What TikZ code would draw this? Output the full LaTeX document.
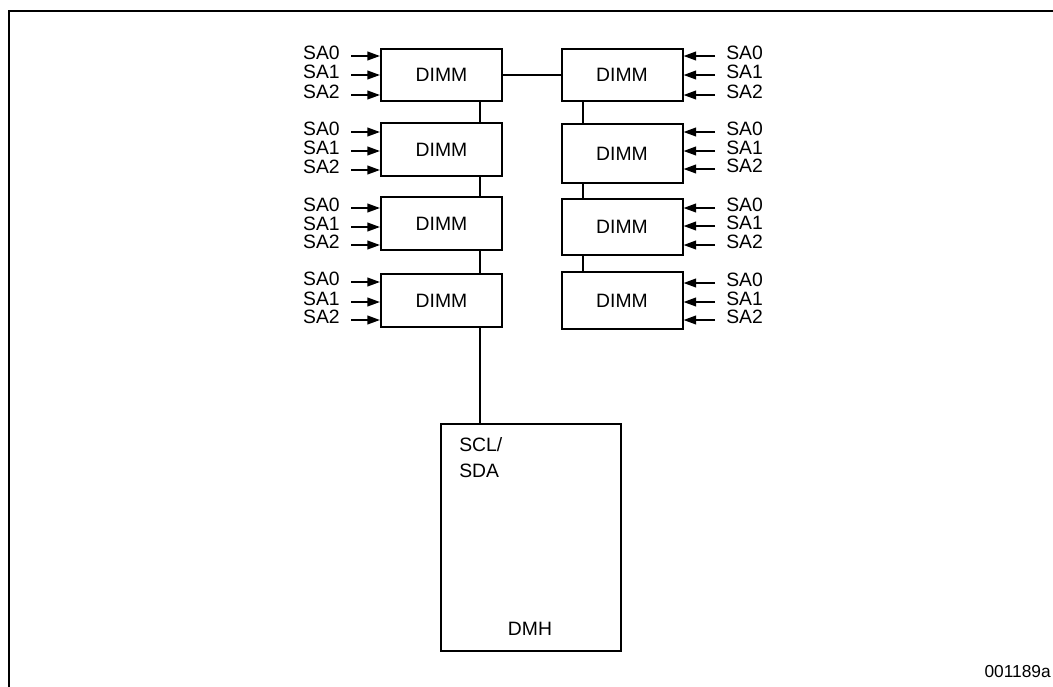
\documentclass[tikz,border=0pt]{standalone}
\usepackage{fontspec}
\setmainfont{Liberation Sans}
\usetikzlibrary{arrows.meta,positioning}

\begin{document}
\begin{tikzpicture}[x=0.75pt,y=-0.75pt,
  dimm/.style={draw,line width=1.5pt,minimum width=90.75pt,inner sep=0pt,font=\fontsize{14.5}{16}\selectfont},
  sal/.style={inner xsep=8.25pt,inner ysep=0pt,font=\fontsize{14.5}{16}\selectfont},
  a/.style={-{Triangle[length=9.5pt,width=6.5pt]},line width=1.5pt},
  w/.style={line width=1.5pt}]
\useasboundingbox (0,0) rectangle (1053,686);
\clip (0,0) rectangle (1053,686);
% outer frame, runs off the page
\draw[line width=1.8pt] (8.7,700) -- (8.7,11) -- (1070,11);
% left column
\node[dimm,minimum height=39pt] (L1) at (441.5,75) {DIMM};
\node[dimm,minimum height=39.75pt] (L2) at (441.5,149.5) {DIMM};
\node[dimm,minimum height=39.75pt] (L3) at (441.5,223.5) {DIMM};
\node[dimm,minimum height=39.75pt] (L4) at (441.5,300.5) {DIMM};
% right column
\node[dimm,minimum height=39pt] (R1) at (622,75) {DIMM};
\node[dimm,minimum height=44.25pt] (R2) at (622,153.5) {DIMM};
\node[dimm,minimum height=42pt] (R3) at (622,227) {DIMM};
\node[dimm,minimum height=42.75pt] (R4) at (622,300.5) {DIMM};
% host
\node[draw,line width=1.5pt,minimum width=135pt,minimum height=170.25pt,inner sep=0pt] (dmh) at (531,537.5) {};
\node[inner sep=0pt,anchor=north west,align=left,font=\fontsize{14.5}{19.5}\selectfont] (scl) at (459,437) {SCL/\\SDA};
\node[inner sep=0pt,font=\fontsize{14.5}{16}\selectfont] (dmhl) at (530,629) {DMH};
% bus
\coordinate (lbus) at (480,0);
\coordinate (rbus) at (583,0);
\draw[w] (L1.east) -- (R1.west);
\draw[w] (L1.south -| lbus) -- (L2.north -| lbus);
\draw[w] (L2.south -| lbus) -- (L3.north -| lbus);
\draw[w] (L3.south -| lbus) -- (L4.north -| lbus);
\draw[w] (L4.south -| lbus) -- (dmh.north -| lbus);
\draw[w] (R1.south -| rbus) -- (R2.north -| rbus);
\draw[w] (R2.south -| rbus) -- (R3.north -| rbus);
\draw[w] (R3.south -| rbus) -- (R4.north -| rbus);
% address straps
\foreach \b/\ya/\yb/\yc in {L1/56/75/95,L2/132/151/170,L3/208/227/245,L4/282/302/320}
  \foreach \s/\y in {0/\ya,1/\yb,2/\yc} {
    \node[sal,anchor=mid east] (\b-\s) at (351,\y) {SA\s};
    \draw[a] (\b-\s.mid east) -- (\b.west |- \b-\s.mid east);
  }
\foreach \b/\ya/\yb/\yc in {R1/56/75/95,R2/132/151/169,R3/208/226/245,R4/283/302/320}
  \foreach \s/\y in {0/\ya,1/\yb,2/\yc} {
    \node[sal,anchor=mid west] (\b-\s) at (715,\y) {SA\s};
    \draw[a] (\b-\s.mid west) -- (\b.east |- \b-\s.mid west);
  }
\node[inner sep=0pt,anchor=base east,font=\fontsize{13}{15}\selectfont] (fig) at (1051,677) {001189a};
\end{tikzpicture}
\end{document}
